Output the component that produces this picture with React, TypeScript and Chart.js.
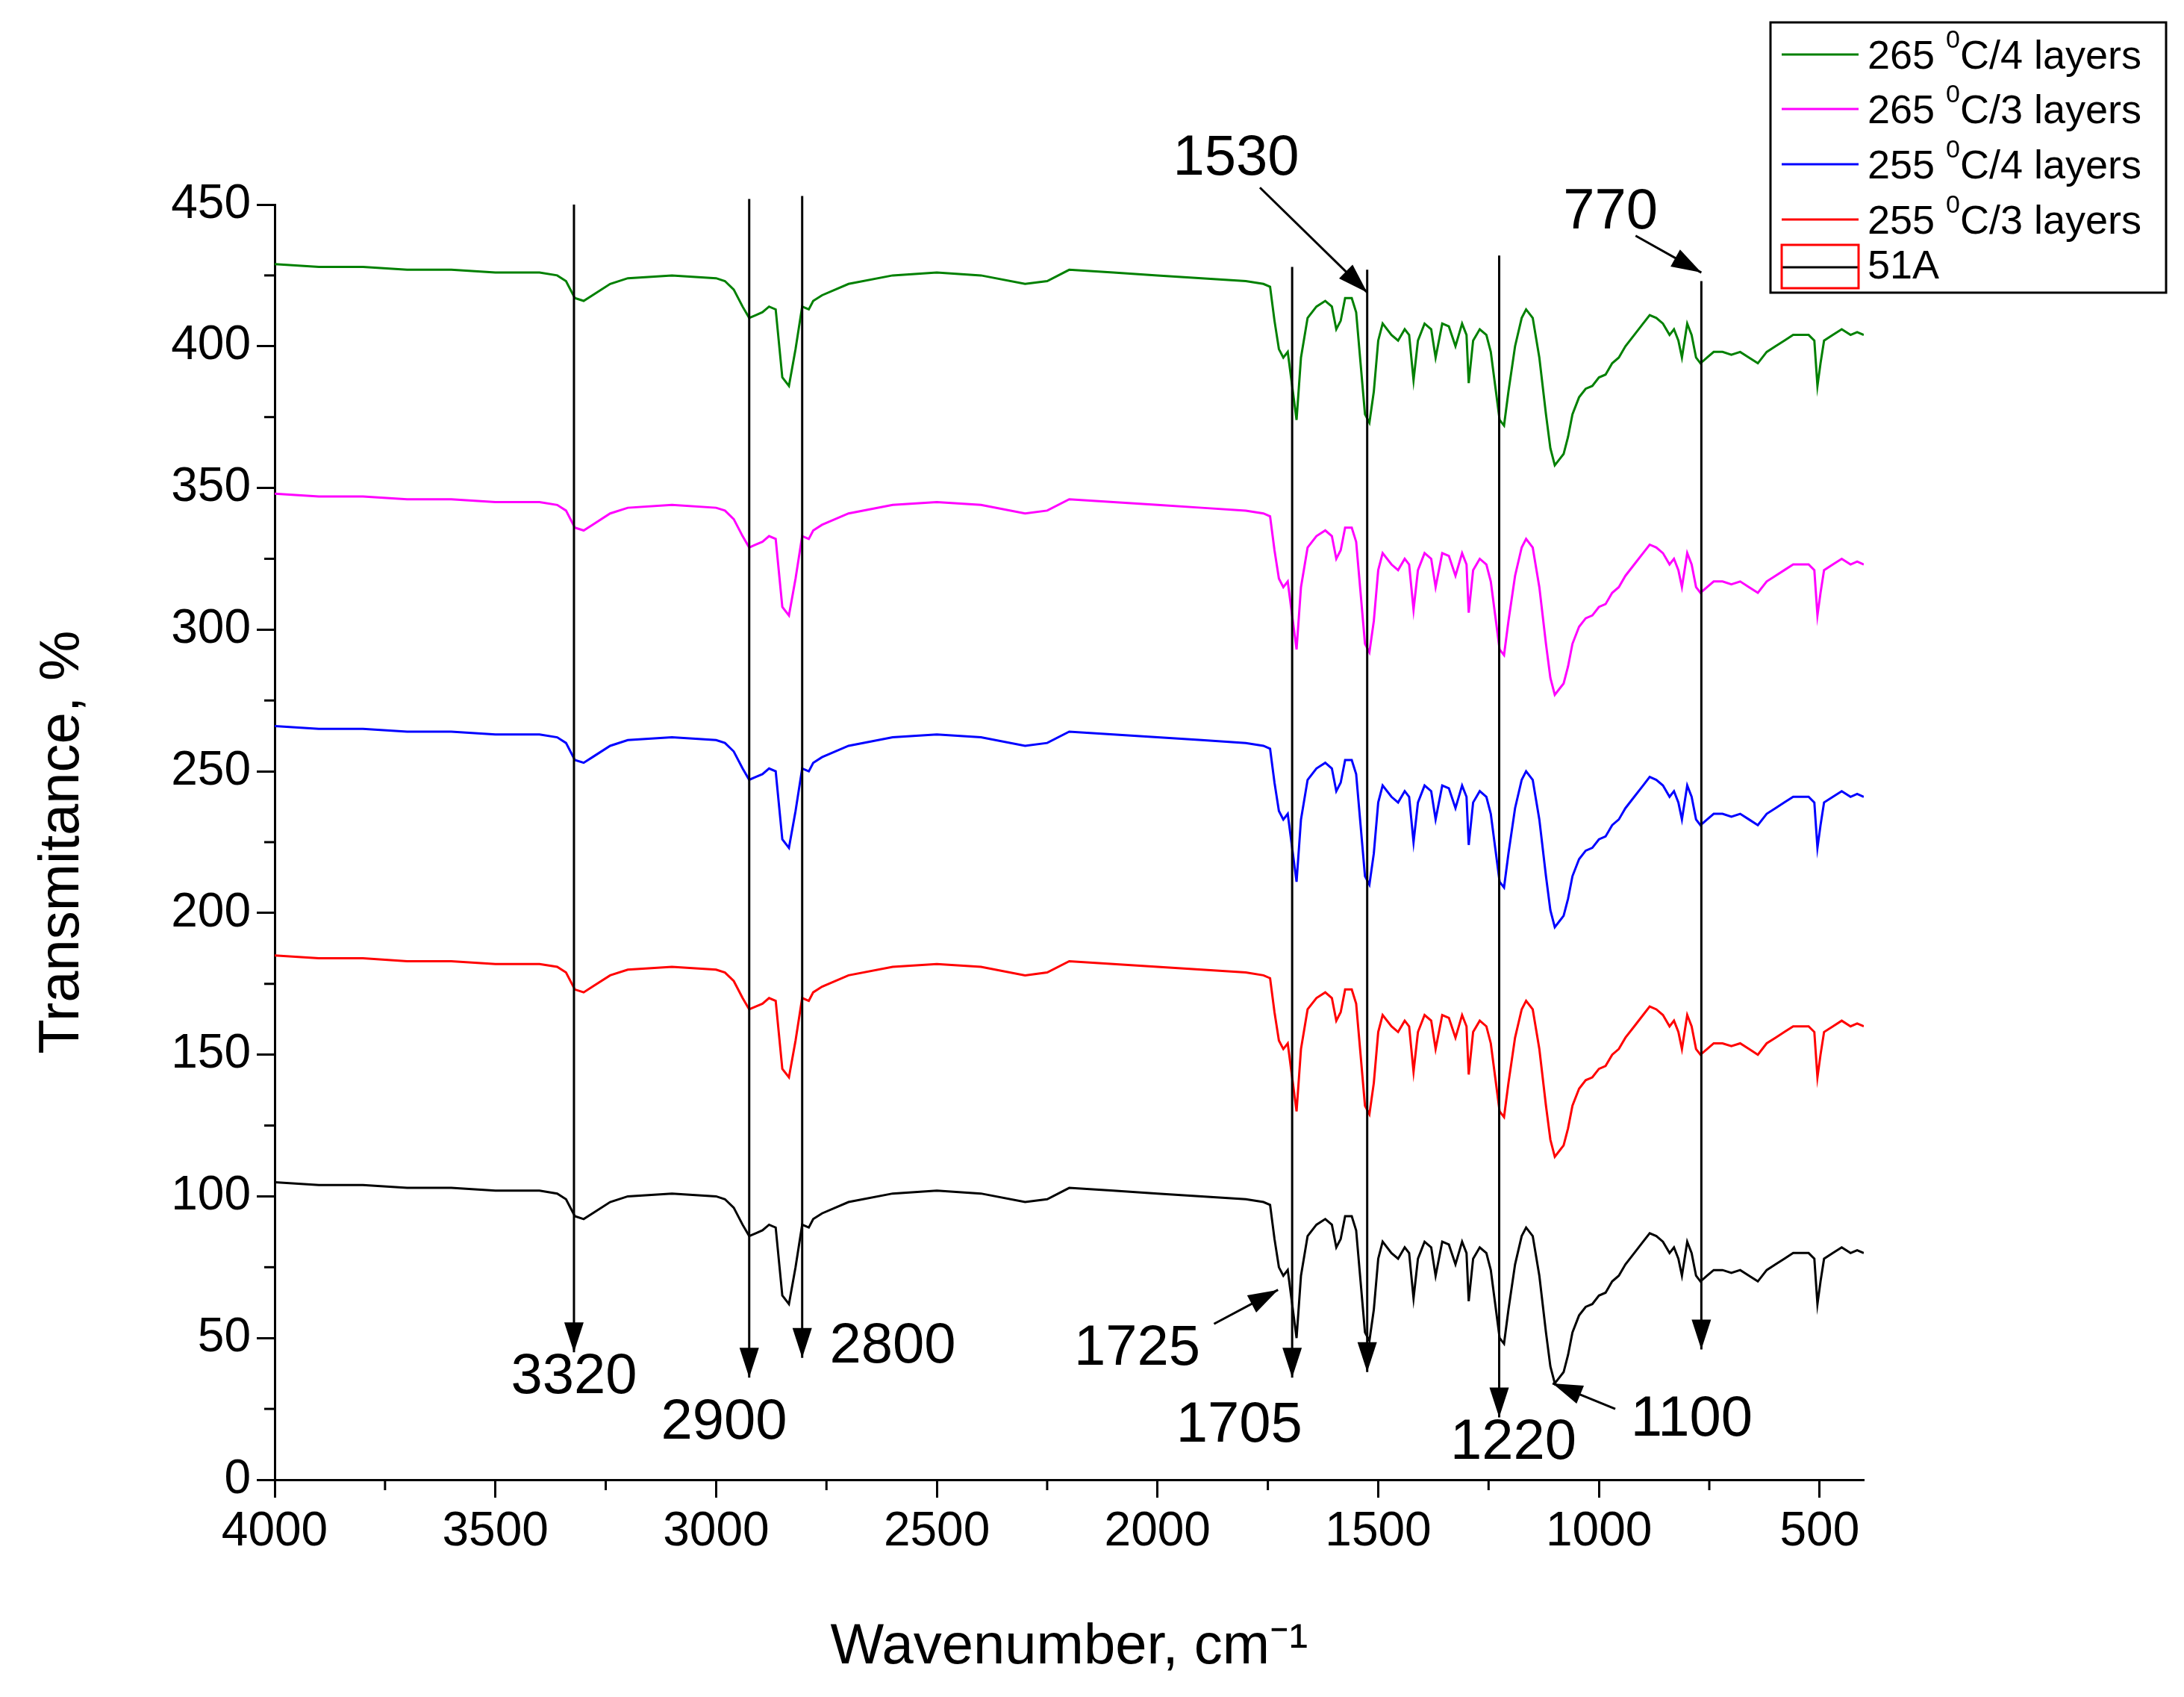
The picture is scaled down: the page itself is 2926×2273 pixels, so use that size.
import React, { useEffect, useRef } from "react";
import { Chart, registerables } from "chart.js";
Chart.register(...registerables);

const FONT = "'Liberation Sans', Arial, sans-serif";

// base spectrum (sample 51A), wavenumber / transmittance
const wavenumbers = [4000,3900,3800,3700,3600,3500,3400,3360,3340,3320,3300,3280,3240,3200,3100,3000,2980,2960,2940,2925,2910,2895,2880,2865,2850,2835,2820,2805,2790,2780,2760,2700,2600,2500,2400,2300,2250,2200,2100,2000,1900,1800,1760,1745,1735,1725,1715,1705,1695,1685,1675,1660,1640,1620,1605,1595,1585,1575,1560,1550,1540,1530,1520,1510,1500,1490,1470,1455,1440,1430,1420,1410,1395,1380,1370,1355,1340,1325,1310,1300,1295,1285,1270,1255,1245,1235,1225,1215,1205,1190,1175,1165,1150,1135,1120,1110,1100,1090,1080,1070,1060,1045,1030,1015,1000,985,970,955,940,920,900,885,870,855,840,830,820,812,800,790,780,770,755,740,720,700,680,660,640,620,600,580,560,540,525,512,505,498,490,470,450,430,415,400];
const baseValues = [105,104,104,103,103,102,102,101,99,93,92,94,98,100,101,100,99,96,90,86,87,88,90,89,65,62,75,90,89,92,94,98,101,102,101,98,99,103,102,101,100,99,98,97,85,75,72,74,62,50,72,86,90,92,90,82,85,93,93,88,70,52,49,60,78,84,80,78,82,80,64,78,84,82,72,84,83,76,84,80,63,78,82,80,74,62,50,48,60,76,86,89,86,72,52,40,34,36,38,44,52,58,61,62,65,66,70,72,76,80,84,87,86,84,80,82,78,72,84,80,72,70,72,74,74,73,74,72,70,74,76,78,80,80,80,78,62,70,78,80,82,80,81,80];

const seriesNames = ["265 \u2070C/4 layers","265 \u2070C/3 layers","255 \u2070C/4 layers","255 \u2070C/3 layers","51A"];
const seriesColors = ["#008000","#ff00ff","#0000ff","#ff0000","#000000"];
const seriesOffsets = [324,243,161,80,0];

const yTicks = [0,50,100,150,200,250,300,350,400,450];
const xTicks = [4000,3500,3000,2500,2000,1500,1000,500];

// annotation lines: [wavenumber, yTop, yBottom]
const markerLines = [[3322,450,45],[2925,452,36],[2805,453,43],[1695,428,36],[1525,427,38],[1226,432,22],[768,423,46]];
// diagonal arrows: [x1,y1,x2,y2]
const diagArrows = [[1768,456,1525,419],[917,439,768,426],[1872,55,1727,67],[963,25,1105,34]];
// labels: [text, wavenumber, y]
const peakLabels: [string, number, number][] = [["3320",3322,36],["2900",2982,20],["2800",2600,47],["1725",2046,46],["1705",1815,19],["1220",1194,13],["1100",790,21],["1530",1822,466],["770",974,447]];

export default function App() {
  const ref = useRef<HTMLCanvasElement>(null);
  useEffect(() => {
    document.body.style.margin = "0";
    const datasets = seriesNames.map((n, i) => ({
      label: n,
      data: wavenumbers.map((w, k) => ({ x: w, y: baseValues[k] + seriesOffsets[i] })),
      borderColor: seriesColors[i],
      borderWidth: 3,
      pointRadius: 0,
      tension: 0,
      fill: false,
    }));
    const arrowHead = (ctx: CanvasRenderingContext2D, x1: number, y1: number, x2: number, y2: number) => {
      const a = Math.atan2(y2 - y1, x2 - x1);
      const L = 40, W = 13;
      ctx.beginPath();
      ctx.moveTo(x2, y2);
      ctx.lineTo(x2 - L * Math.cos(a) + W * Math.sin(a), y2 - L * Math.sin(a) - W * Math.cos(a));
      ctx.lineTo(x2 - L * Math.cos(a) - W * Math.sin(a), y2 - L * Math.sin(a) + W * Math.cos(a));
      ctx.closePath();
      ctx.fill();
    };
    const plugin = {
      id: "annot",
      afterDraw(chart: any) {
        const ctx = chart.ctx as CanvasRenderingContext2D;
        const xs = chart.scales.x, ys = chart.scales.y;
        ctx.save();
        ctx.strokeStyle = "#000"; ctx.fillStyle = "#000"; ctx.lineWidth = 3;
        const ca = chart.chartArea;
        for (let v = 25; v < 450; v += 50) {
          const y = ys.getPixelForValue(v);
          ctx.beginPath(); ctx.moveTo(ca.left, y); ctx.lineTo(ca.left - 14, y); ctx.stroke();
        }
        for (let v = 3750; v > 400; v -= 500) {
          const x = xs.getPixelForValue(v);
          ctx.beginPath(); ctx.moveTo(x, ca.bottom); ctx.lineTo(x, ca.bottom + 14); ctx.stroke();
        }
        for (const [w, t, b] of markerLines) {
          const x = xs.getPixelForValue(w);
          const y1 = ys.getPixelForValue(t), y2 = ys.getPixelForValue(b);
          ctx.beginPath(); ctx.moveTo(x, y1); ctx.lineTo(x, y2); ctx.stroke();
          arrowHead(ctx, x, y1, x, y2);
        }
        for (const [a, b, c, d] of diagArrows) {
          const x1 = xs.getPixelForValue(a), y1 = ys.getPixelForValue(b);
          const x2 = xs.getPixelForValue(c), y2 = ys.getPixelForValue(d);
          ctx.beginPath(); ctx.moveTo(x1, y1); ctx.lineTo(x2, y2); ctx.stroke();
          arrowHead(ctx, x1, y1, x2, y2);
        }
        ctx.font = `76px ${FONT}`;
        ctx.textAlign = "center"; ctx.textBaseline = "middle";
        for (const [s, w, v] of peakLabels) ctx.fillText(s, xs.getPixelForValue(w), ys.getPixelForValue(v));
        // legend
        const lx = 2372, ly = 30, lw = 530, lh = 362;
        ctx.lineWidth = 3; ctx.strokeStyle = "#000";
        ctx.strokeRect(lx, ly, lw, lh);
        const rows = [73, 146, 220, 294, 358];
        ctx.textAlign = "left"; ctx.textBaseline = "middle";
        seriesNames.forEach((n, i) => {
          const y = ly + rows[i] - 30;
          ctx.strokeStyle = seriesColors[i]; ctx.lineWidth = 3;
          ctx.beginPath(); ctx.moveTo(lx + 15, y); ctx.lineTo(lx + 118, y); ctx.stroke();
          ctx.fillStyle = "#000";
          if (i === 4) {
            ctx.strokeStyle = "#ff0000"; ctx.lineWidth = 3;
            ctx.strokeRect(lx + 15, y - 30, 103, 58);
            ctx.font = `54px ${FONT}`;
            ctx.fillText("51A", lx + 130, y);
          } else {
            const parts = n.split(" \u2070");
            ctx.font = `54px ${FONT}`;
            ctx.fillText(parts[0] + " ", lx + 130, y + 4);
            let x = lx + 130 + ctx.measureText(parts[0] + " ").width;
            ctx.font = `34px ${FONT}`;
            ctx.fillText("0", x, y - 18);
            x += ctx.measureText("0").width;
            ctx.font = `54px ${FONT}`;
            ctx.fillText(parts[1], x, y + 4);
          }
        });
        ctx.restore();
      },
    };
    const chart = new Chart(ref.current!, {
      type: "line",
      data: { datasets },
      plugins: [plugin],
      options: {
        animation: false,
        responsive: false,
        devicePixelRatio: 1,
        layout: { padding: { top: 274, right: 429, left: 0, bottom: 0 } },
        plugins: { legend: { display: false }, tooltip: { enabled: false } },
        scales: {
          x: {
            type: "linear", reverse: true, min: 400, max: 4000,
            afterFit: (s: any) => { s.height = 291; },
            afterBuildTicks: (s: any) => { s.ticks = xTicks.map(v => ({ value: v })); },
            ticks: { color: "#000", font: { size: 64, family: FONT }, padding: 8, maxRotation: 0, callback: (v: any) => String(v) },
            grid: { drawOnChartArea: false, tickLength: 24, tickWidth: 3, color: "#000" },
            border: { color: "#000", width: 3 },
            title: { display: true, text: "Wavenumber, cm\u207B\u00B9", color: "#000", font: { size: 76, family: FONT }, padding: { top: 30, bottom: 20 } },
          },
          y: {
            min: 0, max: 450,
            afterFit: (s: any) => { s.width = 368; },
            afterBuildTicks: (s: any) => { s.ticks = yTicks.map(v => ({ value: v })); },
            ticks: { color: "#000", font: { size: 64, family: FONT }, padding: 8, callback: (v: any) => String(v) },
            grid: { drawOnChartArea: false, tickLength: 24, tickWidth: 3, color: "#000" },
            border: { color: "#000", width: 3 },
            title: { display: true, text: "Transmitance, %", color: "#000", font: { size: 76, family: FONT }, padding: { top: 38, bottom: 0 } },
          },
        },
      } as any,
    });
    return () => chart.destroy();
  }, []);
  return <canvas ref={ref} width={2926} height={2273} style={{ display: "block", width: 2926, height: 2273 }} />;
}
